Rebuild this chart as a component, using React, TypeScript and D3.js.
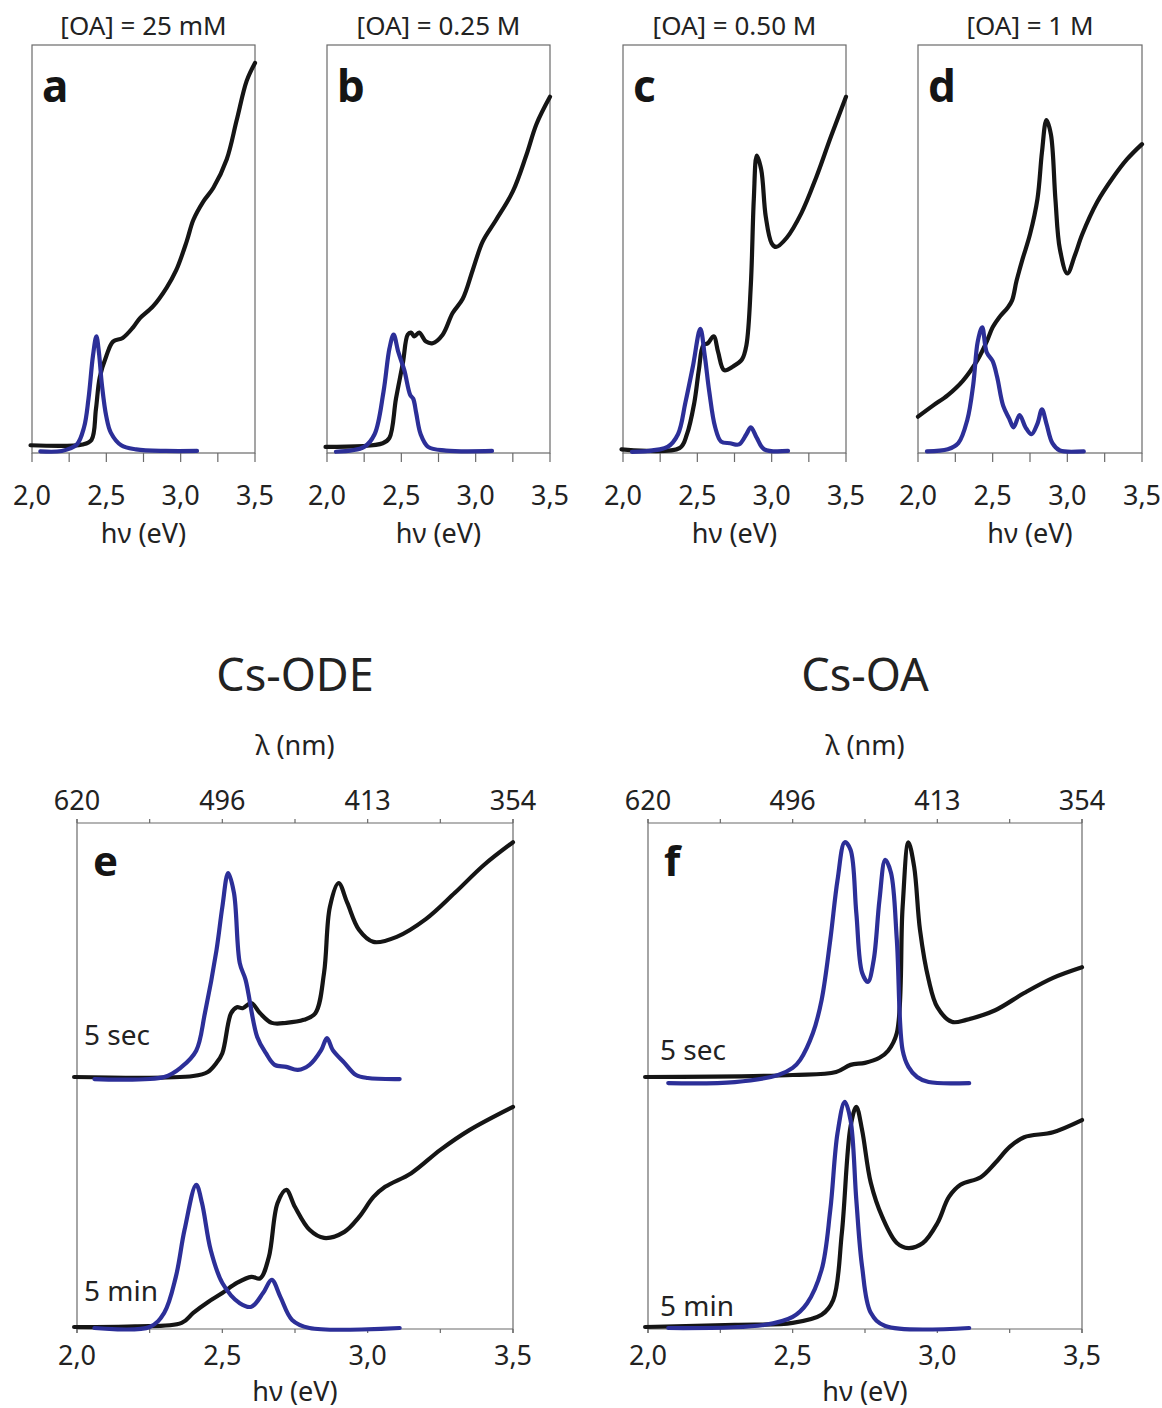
import React from "react";
import * as d3 from "d3";

// ---------- data (photon energy eV, normalized intensity) ----------
const xTicksMajor = [2.0, 2.5, 3.0, 3.5];
const xTicksMinor = [2.25, 2.75, 3.25];
const xTickLabels = ["2,0", "2,5", "3,0", "3,5"];
const nmTickLabels = ["620", "496", "413", "354"];

const topTitles = ["[OA] = 25 mM", "[OA] = 0.25 M", "[OA] = 0.50 M", "[OA] = 1 M"];
const topLetters = ["a", "b", "c", "d"];

const absA: [number, number][] = [[1.99,0.019],[2.34,0.021],[2.40,0.032],[2.43,0.107],[2.456,0.186],[2.50,0.238],[2.545,0.273],[2.61,0.282],[2.68,0.308],[2.725,0.33],[2.815,0.36],[2.905,0.405],[2.97,0.448],[3.04,0.518],[3.085,0.571],[3.15,0.615],[3.22,0.65],[3.31,0.72],[3.377,0.816],[3.444,0.912],[3.5,0.956]];
const plA: [number, number][] = [[2.056,0.004],[2.2,0.005],[2.3,0.02],[2.35,0.063],[2.38,0.133],[2.41,0.238],[2.433,0.286],[2.45,0.247],[2.47,0.168],[2.5,0.089],[2.53,0.05],[2.6,0.019],[2.7,0.009],[2.9,0.005],[3.11,0.005]];

const absB: [number, number][] = [[1.99,0.015],[2.375,0.024],[2.42,0.037],[2.464,0.133],[2.51,0.22],[2.543,0.29],[2.565,0.295],[2.587,0.286],[2.62,0.295],[2.666,0.273],[2.71,0.269],[2.778,0.29],[2.845,0.343],[2.913,0.378],[2.98,0.448],[3.047,0.518],[3.137,0.571],[3.25,0.641],[3.34,0.729],[3.41,0.807],[3.5,0.873]];
const plB: [number, number][] = [[2.06,0.003],[2.25,0.015],[2.32,0.046],[2.38,0.15],[2.42,0.256],[2.448,0.29],[2.48,0.247],[2.52,0.203],[2.56,0.142],[2.58,0.133],[2.6,0.098],[2.63,0.046],[2.68,0.015],[2.8,0.006],[3.11,0.005]];

const absC: [number, number][] = [[1.99,0.009],[2.38,0.012],[2.43,0.046],[2.48,0.124],[2.51,0.203],[2.54,0.264],[2.57,0.269],[2.61,0.286],[2.64,0.247],[2.68,0.203],[2.74,0.212],[2.8,0.229],[2.83,0.264],[2.86,0.413],[2.88,0.623],[2.9,0.729],[2.93,0.694],[2.96,0.58],[3.0,0.514],[3.03,0.505],[3.1,0.527],[3.2,0.588],[3.3,0.676],[3.4,0.777],[3.5,0.873]];
const plC: [number, number][] = [[2.06,0.003],[2.3,0.015],[2.37,0.046],[2.42,0.124],[2.47,0.212],[2.52,0.304],[2.55,0.238],[2.58,0.151],[2.62,0.063],[2.66,0.028],[2.72,0.024],[2.78,0.021],[2.83,0.046],[2.86,0.063],[2.9,0.037],[2.95,0.009],[3.11,0.005]];

const absD: [number, number][] = [[2.0,0.089],[2.1,0.116],[2.2,0.142],[2.3,0.177],[2.4,0.229],[2.46,0.273],[2.5,0.308],[2.55,0.335],[2.6,0.356],[2.63,0.374],[2.66,0.422],[2.7,0.475],[2.75,0.536],[2.8,0.623],[2.83,0.737],[2.86,0.816],[2.89,0.781],[2.92,0.623],[2.95,0.5],[3.0,0.44],[3.05,0.484],[3.1,0.536],[3.2,0.615],[3.3,0.672],[3.4,0.72],[3.5,0.757]];
const plD: [number, number][] = [[2.06,0.004],[2.2,0.009],[2.27,0.024],[2.33,0.081],[2.37,0.168],[2.4,0.273],[2.43,0.308],[2.46,0.247],[2.5,0.225],[2.53,0.186],[2.57,0.116],[2.61,0.085],[2.64,0.063],[2.68,0.093],[2.72,0.063],[2.76,0.046],[2.8,0.072],[2.83,0.107],[2.86,0.072],[2.9,0.024],[2.95,0.006],[3.11,0.004]];

const bottomTitles = ["Cs-ODE", "Cs-OA"];
const bottomLetters = ["e", "f"];
const timeLabels = ["5 sec", "5 min"];

const absE5s: [number, number][] = [[1.99,0.498],[2.4,0.5],[2.45,0.508],[2.48,0.526],[2.5,0.545],[2.53,0.624],[2.55,0.636],[2.57,0.634],[2.6,0.644],[2.63,0.624],[2.67,0.605],[2.72,0.605],[2.78,0.611],[2.82,0.624],[2.85,0.704],[2.87,0.834],[2.9,0.881],[2.93,0.842],[2.97,0.789],[3.02,0.765],[3.1,0.775],[3.2,0.81],[3.3,0.862],[3.4,0.917],[3.5,0.962]];
const plE5s: [number, number][] = [[2.06,0.494],[2.3,0.498],[2.36,0.518],[2.41,0.55],[2.44,0.624],[2.48,0.749],[2.5,0.834],[2.52,0.901],[2.54,0.862],[2.56,0.723],[2.58,0.69],[2.62,0.577],[2.65,0.545],[2.68,0.522],[2.72,0.518],[2.76,0.512],[2.8,0.522],[2.84,0.551],[2.86,0.575],[2.88,0.551],[2.92,0.526],[2.96,0.502],[3.0,0.496],[3.11,0.494]];
const absE5m: [number, number][] = [[1.99,0.004],[2.2,0.005],[2.36,0.012],[2.4,0.032],[2.45,0.053],[2.5,0.071],[2.55,0.091],[2.6,0.103],[2.63,0.1],[2.66,0.142],[2.69,0.249],[2.72,0.275],[2.75,0.241],[2.8,0.196],[2.85,0.18],[2.92,0.192],[2.97,0.221],[3.02,0.261],[3.06,0.281],[3.15,0.308],[3.25,0.354],[3.35,0.393],[3.5,0.439]];
const plE5m: [number, number][] = [[2.06,0.002],[2.25,0.004],[2.3,0.032],[2.34,0.103],[2.37,0.196],[2.41,0.285],[2.43,0.249],[2.46,0.156],[2.5,0.091],[2.56,0.051],[2.6,0.044],[2.64,0.071],[2.67,0.097],[2.7,0.063],[2.74,0.018],[2.8,0.002],[3.11,0.002]];

const absF5s: [number, number][] = [[1.99,0.498],[2.5,0.502],[2.65,0.508],[2.7,0.522],[2.75,0.526],[2.8,0.536],[2.83,0.55],[2.86,0.585],[2.88,0.834],[2.9,0.962],[2.92,0.913],[2.94,0.789],[2.97,0.69],[3.0,0.636],[3.05,0.607],[3.1,0.611],[3.2,0.63],[3.3,0.664],[3.4,0.694],[3.5,0.715]];
const plF5s: [number, number][] = [[2.07,0.486],[2.3,0.488],[2.45,0.502],[2.5,0.516],[2.526,0.532],[2.57,0.585],[2.6,0.65],[2.63,0.769],[2.655,0.887],[2.68,0.962],[2.7,0.947],[2.72,0.822],[2.74,0.704],[2.76,0.686],[2.78,0.729],[2.8,0.848],[2.82,0.927],[2.84,0.901],[2.86,0.769],[2.88,0.551],[2.9,0.518],[2.93,0.498],[2.97,0.488],[3.11,0.486]];
const absF5m: [number, number][] = [[1.99,0.004],[2.3,0.008],[2.5,0.012],[2.6,0.028],[2.64,0.057],[2.67,0.19],[2.7,0.4],[2.72,0.439],[2.74,0.393],[2.77,0.289],[2.81,0.221],[2.86,0.17],[2.9,0.16],[2.95,0.17],[3.0,0.209],[3.04,0.261],[3.08,0.285],[3.15,0.3],[3.2,0.328],[3.25,0.36],[3.3,0.379],[3.4,0.389],[3.5,0.413]];
const plF5m: [number, number][] = [[2.07,0.002],[2.4,0.008],[2.5,0.024],[2.55,0.051],[2.6,0.117],[2.63,0.235],[2.655,0.387],[2.68,0.449],[2.7,0.413],[2.72,0.255],[2.74,0.123],[2.77,0.032],[2.82,0.006],[3.11,0.002]];

const topAbs = [absA, absB, absC, absD];
const topPl = [plA, plB, plC, plD];
const botAbs = [[absE5s, absE5m], [absF5s, absF5m]];
const botPl = [[plE5s, plE5m], [plF5s, plF5m]];

// ---------- styles ----------
const FONT = "'Noto Sans', 'Open Sans', sans-serif";
const BLACK = "#151515";
const BLUE = "#2c2f98";
const FRAME = "#6a6a6a";
const TXT = "#222";

const lineGen = (x: d3.ScaleLinear<number, number>, y: d3.ScaleLinear<number, number>) =>
  d3.line<[number, number]>().x((d) => x(d[0])).y((d) => y(d[1])).curve(d3.curveCatmullRom.alpha(0.5));

function TopPanel({ i, left, right }: { i: number; left: number; right: number }) {
  const top = 45, bottom = 453;
  const x = d3.scaleLinear().domain([2.0, 3.5]).range([left, right]);
  const y = d3.scaleLinear().domain([0, 1]).range([bottom, top]);
  const lg = lineGen(x, y);
  const cx = (left + right) / 2;
  return (
    <g>
      <text x={cx} y={35} textAnchor="middle" fontFamily={FONT} fontSize={26} fill={TXT}>{topTitles[i]}</text>
      <rect x={left} y={top} width={right - left} height={bottom - top} fill="none" stroke={FRAME} strokeWidth={1.2} />
      {[...xTicksMajor, ...xTicksMinor].map((t) => (
        <line key={t} x1={x(t)} x2={x(t)} y1={bottom} y2={bottom + 9} stroke={FRAME} strokeWidth={1.2} />
      ))}
      {xTicksMajor.map((t, k) => (
        <text key={t} x={x(t)} y={505} textAnchor="middle" fontFamily={FONT} fontSize={27} fill={TXT}>{xTickLabels[k]}</text>
      ))}
      <text x={cx} y={543} textAnchor="middle" fontFamily={FONT} fontSize={27} fill={TXT}>hν (eV)</text>
      <text x={left + 10} y={102} fontFamily={FONT} fontWeight="bold" fontSize={44} fill={BLACK}>{topLetters[i]}</text>
      <path d={lg(topAbs[i]) || ""} fill="none" stroke={BLACK} strokeWidth={4.2} strokeLinejoin="round" strokeLinecap="round" />
      <path d={lg(topPl[i]) || ""} fill="none" stroke={BLUE} strokeWidth={4.2} strokeLinejoin="round" strokeLinecap="round" />
    </g>
  );
}

function BottomPanel({ i, left, right }: { i: number; left: number; right: number }) {
  const top = 823, bottom = 1329;
  const x = d3.scaleLinear().domain([2.0, 3.5]).range([left, right]);
  const y = d3.scaleLinear().domain([0, 1]).range([bottom, top]);
  const lg = lineGen(x, y);
  const cx = (left + right) / 2;
  return (
    <g>
      <text x={cx} y={691} textAnchor="middle" fontFamily={FONT} fontSize={45} fill={TXT}>{bottomTitles[i]}</text>
      <text x={cx} y={755} textAnchor="middle" fontFamily={FONT} fontSize={27} fill={TXT}>λ (nm)</text>
      <line x1={left} x2={right} y1={top} y2={top} stroke={FRAME} strokeWidth={1.2} />
      <line x1={left} x2={right} y1={bottom} y2={bottom} stroke={FRAME} strokeWidth={1.2} />
      <line x1={left} x2={left} y1={top - 4} y2={bottom + 4} stroke={FRAME} strokeWidth={1.2} />
      <line x1={right} x2={right} y1={top - 4} y2={bottom + 4} stroke={FRAME} strokeWidth={1.2} />
      {[...xTicksMajor, ...xTicksMinor].map((t) => (
        <g key={t}>
          <line x1={x(t)} x2={x(t)} y1={top} y2={top - 4} stroke={FRAME} strokeWidth={1.2} />
          <line x1={x(t)} x2={x(t)} y1={bottom} y2={bottom + 4} stroke={FRAME} strokeWidth={1.2} />
        </g>
      ))}
      {xTicksMajor.map((t, k) => (
        <text key={"n" + t} x={x(t)} y={810} textAnchor="middle" fontFamily={FONT} fontSize={27} fill={TXT}>{nmTickLabels[k]}</text>
      ))}
      {xTicksMajor.map((t, k) => (
        <text key={"e" + t} x={x(t)} y={1365} textAnchor="middle" fontFamily={FONT} fontSize={27} fill={TXT}>{xTickLabels[k]}</text>
      ))}
      <text x={cx} y={1401} textAnchor="middle" fontFamily={FONT} fontSize={27} fill={TXT}>hν (eV)</text>
      <text x={left + 16} y={876} fontFamily={FONT} fontWeight="bold" fontSize={42} fill={BLACK}>{bottomLetters[i]}</text>
      <text x={left + 7 + i * 5} y={i === 0 ? 1045 : 1060} fontFamily={FONT} fontSize={28} fill={TXT}>{timeLabels[0]}</text>
      <text x={left + 7 + i * 5} y={i === 0 ? 1301 : 1316} fontFamily={FONT} fontSize={28} fill={TXT}>{timeLabels[1]}</text>
      {botAbs[i].map((s, k) => (
        <path key={"a" + k} d={lg(s) || ""} fill="none" stroke={BLACK} strokeWidth={4.2} strokeLinejoin="round" strokeLinecap="round" />
      ))}
      {botPl[i].map((s, k) => (
        <path key={"p" + k} d={lg(s) || ""} fill="none" stroke={BLUE} strokeWidth={4.2} strokeLinejoin="round" strokeLinecap="round" />
      ))}
    </g>
  );
}

export default function App() {
  const topFrames = [[32, 255], [327, 550], [623, 846], [918, 1142]];
  const botFrames = [[77, 513], [648, 1082]];
  return (
    <svg width={1162} height={1408} style={{ position: "absolute", left: 0, top: 0, background: "#fff" }}>
      <rect width={1162} height={1408} fill="#fff" />
      {topFrames.map((f, i) => (
        <TopPanel key={i} i={i} left={f[0]} right={f[1]} />
      ))}
      {botFrames.map((f, i) => (
        <BottomPanel key={i} i={i} left={f[0]} right={f[1]} />
      ))}
    </svg>
  );
}
